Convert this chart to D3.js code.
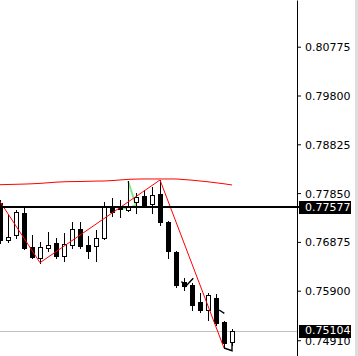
<!DOCTYPE html>
<html><head><meta charset="utf-8">
<script src="https://cdn.jsdelivr.net/npm/d3@7"></script>
<style>html,body{margin:0;padding:0;background:#fff;overflow:hidden}</style>
</head><body>
<svg id="c" width="358" height="356"></svg>
<script>
// ---- data ----
const opens  = [0.77652,0.76907,0.77013,0.77452,0.76773,0.76559,0.76747,0.76853,0.76599,0.76813,0.77133,0.76807,0.76787,0.76947,0.77586,0.77552,0.77512,0.77666,0.77792,0.77626,0.77832,0.77278,0.76679,0.76080,0.76014,0.75680,0.75514,0.75760,0.75280,0.74881];
const highs  = [0.77712,0.77412,0.77512,0.77558,0.77013,0.76879,0.77079,0.76953,0.77059,0.77266,0.77278,0.76993,0.77113,0.77678,0.77746,0.77712,0.78092,0.77846,0.77912,0.77966,0.78112,0.77292,0.76693,0.76148,0.76048,0.75848,0.75848,0.75834,0.75300,0.75129];
const lows   = [0.76853,0.76873,0.76961,0.76733,0.76553,0.76459,0.76693,0.76553,0.76493,0.76759,0.76747,0.76547,0.76493,0.76927,0.77398,0.77378,0.77500,0.77446,0.77578,0.77446,0.77212,0.76547,0.75980,0.75914,0.75514,0.75480,0.75314,0.75215,0.74755,0.74815];
const closes = [0.76913,0.76967,0.77472,0.76759,0.76579,0.76773,0.76813,0.76593,0.76827,0.77127,0.76799,0.76699,0.76947,0.77578,0.77478,0.77532,0.77602,0.77766,0.77612,0.77806,0.77266,0.76693,0.76014,0.75994,0.75614,0.75514,0.75814,0.75249,0.74849,0.75104];
const maLine = [0.78018,0.78022,0.78026,0.78030,0.78036,0.78044,0.78056,0.78068,0.78076,0.78080,0.78082,0.78086,0.78090,0.78092,0.78100,0.78112,0.78124,0.78130,0.78132,0.78132,0.78132,0.78132,0.78132,0.78120,0.78108,0.78092,0.78076,0.78056,0.78036,0.78012];
const redZigzag   = [[0,0.77680],[5,0.76459],[20,0.78112],[28,0.74755]];
const greenZigzag = [[15,0.77542],[16,0.77546],[17,0.77606],[16,0.78092]];
const blackZigA   = [[22.69,0.76084],[23.19,0.75984],[24.16,0.76148]];
const blackZigB   = [[27.4,0.75514],[28.04,0.75448]];
const blackZigC   = [[28,0.74755],[29,0.74701],[29,0.74861]];
const tickValues  = [0.80775,0.79800,0.78825,0.77850,0.76875,0.75900,0.74910];
const levelPrice  = 0.77577;
const lastPrice   = 0.75104;

// ---- scales ----
const W = 358, H = 356, axisX = 297;
const svg = d3.select("#c");
const x = d3.scaleLinear().domain([0, 29]).range([0, 232]);
const y = d3.scaleLinear().domain([0.745952, 0.817081]).range([H, 0]);
const px = v => Math.round(x(v)) + 0.5;
const py = v => Math.round(y(v)) + 0.5;

// right border strip
svg.append("rect").attr("x", 355).attr("y", 0).attr("width", 3).attr("height", H).attr("fill", "#dedede");

// last price grey line
svg.append("line").attr("x1", 0).attr("x2", axisX).attr("y1", py(lastPrice)).attr("y2", py(lastPrice))
  .attr("stroke", "#c0c0c0").attr("stroke-width", 1);

// MA curve
const line = d3.line().x(d => x(d[0])).y(d => y(d[1]));
svg.append("path").datum(maLine.map((v, i) => [i, v])).attr("d", line)
  .attr("fill", "none").attr("stroke", "#ff0000").attr("stroke-width", 1);

// green zigzag
svg.append("path").datum(greenZigzag).attr("d", line)
  .attr("fill", "none").attr("stroke", "#80e880").attr("stroke-width", 2);

// candles
const data = opens.map((o, i) => ({i, o, h: highs[i], l: lows[i], c: closes[i]}));
const g = svg.append("g");
g.selectAll("line.w").data(data).join("line").attr("class", "w")
  .attr("x1", d => px(d.i)).attr("x2", d => px(d.i))
  .attr("y1", d => Math.round(y(d.h))).attr("y2", d => Math.round(y(d.l)) + 1)
  .attr("stroke", "#000").attr("stroke-width", 1);
g.selectAll("rect.b").data(data).join("rect").attr("class", "b")
  .attr("x", d => Math.round(x(d.i)) - 1.5)
  .attr("width", 4)
  .attr("y", d => py(Math.max(d.o, d.c)))
  .attr("height", d => Math.max(1, Math.round(y(Math.min(d.o, d.c))) - Math.round(y(Math.max(d.o, d.c)))))
  .attr("fill", d => d.c >= d.o ? "#fff" : "#000")
  .attr("stroke", "#000").attr("stroke-width", 1);

// red zigzag
svg.append("path").datum(redZigzag).attr("d", line)
  .attr("fill", "none").attr("stroke", "#ff0000").attr("stroke-width", 1);

// black small zigzags
[blackZigA, blackZigB, blackZigC].forEach(z => {
  svg.append("path").datum(z).attr("d", line)
    .attr("fill", "none").attr("stroke", "#000").attr("stroke-width", 1.4);
});

// level line
svg.append("line").attr("x1", 0).attr("x2", axisX + 2).attr("y1", Math.round(y(levelPrice)) ).attr("y2", Math.round(y(levelPrice)))
  .attr("stroke", "#000").attr("stroke-width", 2);

// axis
const axis = d3.axisRight(y).tickValues(tickValues).tickSize(4).tickSizeOuter(0).tickPadding(4)
  .tickFormat(d => d.toFixed(5));
const ag = svg.append("g").attr("transform", `translate(${axisX},0)`).call(axis);
ag.select(".domain").attr("stroke", "#000");
ag.selectAll(".tick line").attr("stroke", "#000");
ag.selectAll("text").attr("font-family", "DejaVu Sans, Verdana, sans-serif").attr("font-size", 11)
  .attr("fill", "#000").attr("dy", "0.36em");

// price label boxes
[levelPrice, lastPrice].forEach(p => {
  const yy = y(p);
  svg.append("rect").attr("x", 299).attr("y", Math.round(yy) - 6).attr("width", 52).attr("height", 13).attr("fill", "#000");
  svg.append("text").attr("x", 305).attr("y", yy).attr("dy", "0.36em")
    .attr("font-family", "DejaVu Sans, Verdana, sans-serif").attr("font-size", 11).attr("fill", "#fff")
    .text(p.toFixed(5));
});
</script>
</body></html>
